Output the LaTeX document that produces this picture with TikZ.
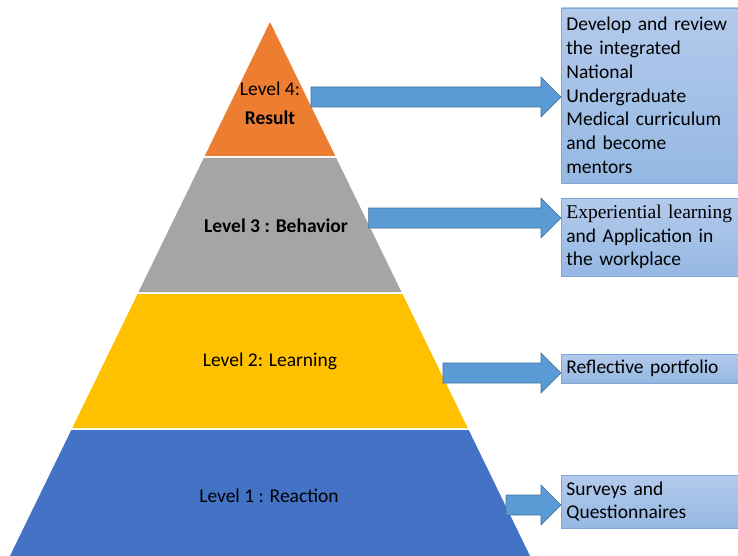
\documentclass[tikz,border=0pt]{standalone}
\usepackage{fontspec}
\setmainfont{Carlito}
\newfontfamily\timesfont{Liberation Serif}
\usetikzlibrary{calc}
\definecolor{resultorange}{HTML}{ED7D31}
\definecolor{behaviorgray}{HTML}{A5A5A5}
\definecolor{learningyellow}{HTML}{FFC000}
\definecolor{reactionblue}{HTML}{4472C4}
\definecolor{arrowblue}{HTML}{5B9BD5}
\definecolor{arrowedge}{HTML}{41719C}
\definecolor{boxtop}{HTML}{B3CAEB}
\definecolor{boxbottom}{HTML}{95B8E3}
\definecolor{boxedge}{HTML}{7FA6D8}

\newcommand\blockarrow[2]{%
  \draw[blockarrow] let \p1=(#1), \p2=(#2) in
    (\x1,\y1+10pt) -- (\x2-20pt,\y1+10pt) -- (\x2-20pt,\y1+20pt)
    -- (\x2,\y1) -- (\x2-20pt,\y1-20pt) -- (\x2-20pt,\y1-10pt)
    -- (\x1,\y1-10pt) -- cycle;}

\begin{document}
\begin{tikzpicture}[x=1pt,y=-1pt,
  level/.style={font=\fontsize{19.5}{23.5}\selectfont,align=center,inner sep=0pt},
  outcome/.style={draw=boxedge,line width=0.8pt,top color=boxtop,bottom color=boxbottom,
    anchor=west,text width=190pt,align=left,inner xsep=5pt,inner ysep=3pt,
    font=\fontsize{19.5}{23.8}\selectfont},
  blockarrow/.style={draw=arrowedge,fill=arrowblue,line width=0.6pt,line join=miter}]
  \useasboundingbox (0,0) rectangle (738,556);
  \foreach \top/\bot/\col in {22/156/resultorange,158/292/behaviorgray,
      294/428/learningyellow,430/556/reactionblue}
    \fill[\col] ({270-0.487*(\top-22)},\top) -- ({270+0.487*(\top-22)},\top)
      -- ({270+0.487*(\bot-22)},\bot) -- ({270-0.487*(\bot-22)},\bot) -- cycle;

  \node[level,font=\fontsize{19.5}{29}\selectfont] (l4) at (270,103) {Level 4:\\\textbf{Result}};
  \node[level,font=\fontsize{19.5}{23.5}\selectfont\bfseries] (l3) at (276,226) {Level 3 : Behavior};
  \node[level] (l2) at (270,361) {Level 2: Learning};
  \node[level] (l1) at (269,496) {Level 1 : Reaction};

  \node[outcome,minimum height=175pt] (out4) at (561,95.5)
    {Develop and review\\the integrated\\National\\Undergraduate\\Medical curriculum\\and become\\mentors};
  \node[outcome,minimum height=78pt] (out3) at (561,237)
    {{\timesfont Experiential learning}\\and Application in\\the workplace};
  \node[outcome,minimum height=29pt] (out2) at (561,368.5) {Reflective portfolio};
  \node[outcome,minimum height=53pt] (out1) at (561,501.5) {Surveys and\\Questionnaires};

  \coordinate (a4) at (311,97);
  \coordinate (a3) at (368.6,218);
  \coordinate (a2) at (443,373);
  \coordinate (a1) at (506,505);
  \blockarrow{a4}{out4.west|-a4}
  \blockarrow{a3}{out3.west|-a3}
  \blockarrow{a2}{out2.west|-a2}
  \blockarrow{a1}{out1.west|-a1}
\end{tikzpicture}
\end{document}
